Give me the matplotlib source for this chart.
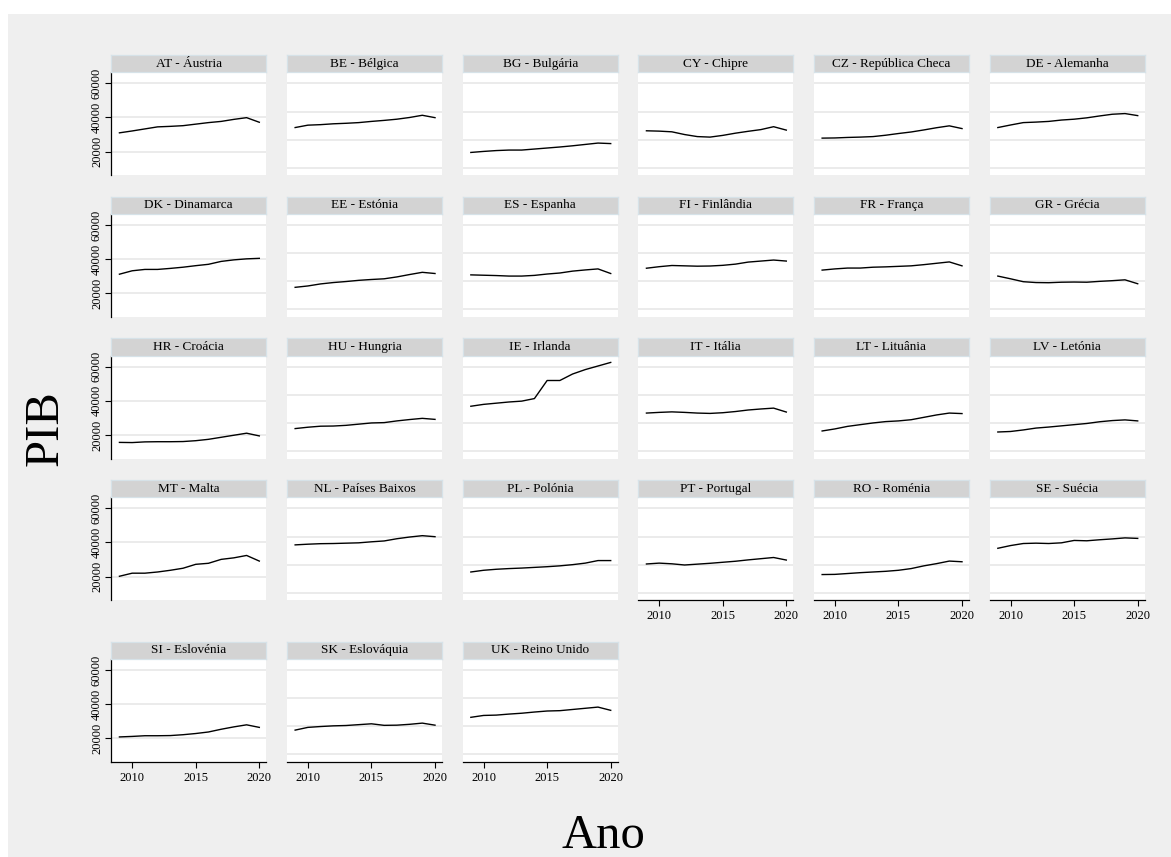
import matplotlib.pyplot as plt
from matplotlib.patches import Rectangle

# GDP per capita by country, 2009-2020
anos = list(range(2009, 2021))

at = [31000, 32100, 33300, 34500, 34800, 35200, 36100, 37000, 37700, 38900, 39900, 37200]
be = [34100, 35500, 35800, 36300, 36600, 37000, 37700, 38300, 39000, 40000, 41300, 39900]
bg = [19500, 20100, 20600, 20900, 20900, 21500, 22100, 22700, 23400, 24200, 25000, 24700]
cy = [32200, 32000, 31600, 30000, 28800, 28500, 29500, 30800, 31900, 32900, 34600, 32600]
cz = [27900, 28000, 28300, 28500, 28800, 29600, 30600, 31500, 32700, 34000, 35100, 33500]
de = [34100, 35600, 37000, 37300, 37700, 38500, 39000, 39800, 40900, 41900, 42300, 41100]
dk = [31200, 33200, 34000, 34000, 34600, 35300, 36200, 37000, 38700, 39600, 40200, 40500]
ee = [23500, 24300, 25500, 26300, 26900, 27600, 28100, 28500, 29600, 31000, 32300, 31600]
es = [30800, 30600, 30400, 30100, 30100, 30500, 31300, 31900, 33000, 33700, 34300, 31600]
fi = [34700, 35600, 36300, 36100, 35900, 36000, 36400, 37100, 38300, 38900, 39500, 38900]
fr = [33600, 34300, 34800, 34800, 35300, 35500, 35800, 36100, 36800, 37600, 38400, 36100]
gr = [30100, 28500, 26800, 26300, 26200, 26500, 26600, 26500, 27000, 27400, 27900, 25600]
hr = [15600, 15500, 15900, 16000, 16000, 16100, 16600, 17400, 18600, 19800, 21000, 19400]
hu = [23700, 24500, 25100, 25200, 25600, 26300, 27000, 27200, 28200, 29000, 29700, 29100]
ie = [36800, 37900, 38600, 39300, 39800, 41300, 51900, 51900, 55700, 58300, 60400, 62500]
it = [32800, 33200, 33500, 33200, 32800, 32600, 33000, 33700, 34600, 35200, 35700, 33400]
lt = [22300, 23500, 25000, 26000, 27000, 27800, 28200, 28900, 30300, 31700, 32800, 32500]
lv = [21700, 22000, 22900, 24000, 24600, 25300, 26000, 26700, 27700, 28400, 28800, 28200]
mt = [20200, 22000, 22000, 22700, 23700, 24900, 27200, 27800, 30100, 31000, 32400, 29100]
nl = [38600, 39000, 39300, 39400, 39600, 39800, 40400, 40900, 42200, 43200, 44000, 43400]
pl = [22700, 23700, 24300, 24700, 25000, 25400, 25800, 26300, 27000, 27900, 29400, 29400]
pt = [27400, 27900, 27500, 26800, 27300, 27800, 28400, 29000, 29800, 30500, 31200, 29700]
ro = [21200, 21300, 21800, 22300, 22700, 23100, 23700, 24700, 26300, 27600, 29100, 28700]
se = [36600, 38200, 39400, 39600, 39400, 39800, 41200, 41000, 41600, 42100, 42700, 42400]
si = [20800, 21100, 21500, 21500, 21600, 22100, 22800, 23700, 25300, 26700, 27900, 26400]
sk = [24800, 26400, 26900, 27300, 27500, 28000, 28500, 27600, 27700, 28200, 28900, 27700]
uk = [32300, 33400, 33600, 34200, 34700, 35400, 36000, 36200, 36900, 37600, 38300, 36400]

paises = ['AT - Áustria', 'BE - Bélgica', 'BG - Bulgária', 'CY - Chipre',
          'CZ - República Checa', 'DE - Alemanha', 'DK - Dinamarca', 'EE - Estónia',
          'ES - Espanha', 'FI - Finlândia', 'FR - França', 'GR - Grécia',
          'HR - Croácia', 'HU - Hungria', 'IE - Irlanda', 'IT - Itália',
          'LT - Lituânia', 'LV - Letónia', 'MT - Malta', 'NL - Países Baixos',
          'PL - Polónia', 'PT - Portugal', 'RO - Roménia', 'SE - Suécia',
          'SI - Eslovénia', 'SK - Eslováquia', 'UK - Reino Unido']
series = [at, be, bg, cy, cz, de, dk, ee, es, fi, fr, gr, hr, hu, ie, it,
          lt, lv, mt, nl, pl, pt, ro, se, si, sk, uk]

y_ticks = [20000, 40000, 60000]
grid_other = [10500, 27000, 43500, 60000]
x_ticks = [2010, 2015, 2020]

W, H = 1171, 857
plt.rcParams['font.family'] = ['Liberation Serif', 'DejaVu Serif']
fig = plt.figure(figsize=(W / 100, H / 100), dpi=100, facecolor='white')

# graph region (behind all panels)
fig.patches.append(Rectangle((8 / W, 0), 1, 1 - 14 / H, transform=fig.transFigure,
                             facecolor='#efefef', edgecolor='none', zorder=-10))


def box(left, top, w, h):
    return [left / W, 1 - (top + h) / H, w / W, h / H]


col_left = [111.3, 287.0, 462.7, 638.3, 814.0, 989.7]
row_top = [72.3, 214.0, 355.6, 497.3, 659.0]
pw, ph, sh = 155, 103, 17.5

# panels that carry the x axis labels
x_axis_panels = {21, 22, 23, 24, 25, 26}

for i, (nome, valores) in enumerate(zip(paises, series)):
    r, c = divmod(i, 6)
    left, top = col_left[c], row_top[r]

    ax = fig.add_axes(box(left, top, pw, ph))
    ax.set_facecolor('white')
    ax.set_xlim(2008.36, 2020.55)
    ax.set_ylim(6100, 66500)
    for s in ax.spines.values():
        s.set_visible(False)

    grid = y_ticks if c == 0 else grid_other
    for g in grid:
        ax.axhline(g, color='#e8e8e8', lw=1.2, zorder=1)
    ax.plot(anos, valores, color='black', lw=1.0, zorder=3)

    if c == 0:
        ax.spines['left'].set_visible(True)
        ax.spines['left'].set_linewidth(0.9)
        ax.set_yticks(y_ticks)
        ax.set_yticklabels([str(v) for v in y_ticks], rotation=90, va='center', fontsize=9)
        ax.tick_params(axis='y', length=4, width=0.8, pad=2)
    else:
        ax.set_yticks([])

    if i in x_axis_panels:
        ax.spines['bottom'].set_visible(True)
        ax.spines['bottom'].set_linewidth(0.9)
        ax.set_xticks(x_ticks)
        ax.set_xticklabels([str(v) for v in x_ticks], fontsize=9)
        ax.tick_params(axis='x', length=4, width=0.8, pad=3)
    else:
        ax.set_xticks([])

    # strip with the country name
    st = fig.add_axes(box(left, top - sh, pw, sh))
    st.set_facecolor('#d3d3d3')
    st.set_xticks([])
    st.set_yticks([])
    for s in st.spines.values():
        s.set_color('#d6e2e8')
        s.set_linewidth(0.9)
    st.text(0.5, 0.5, nome, ha='center', va='center', fontsize=9.5, transform=st.transAxes)

fig.text(46 / W, 1 - 428 / H, 'PIB', rotation=90, ha='center', va='center', fontsize=35)
fig.text(603 / W, 1 - 836 / H, 'Ano', ha='center', va='center', fontsize=35)

fig.savefig('out.png', dpi=100, facecolor=fig.get_facecolor())
